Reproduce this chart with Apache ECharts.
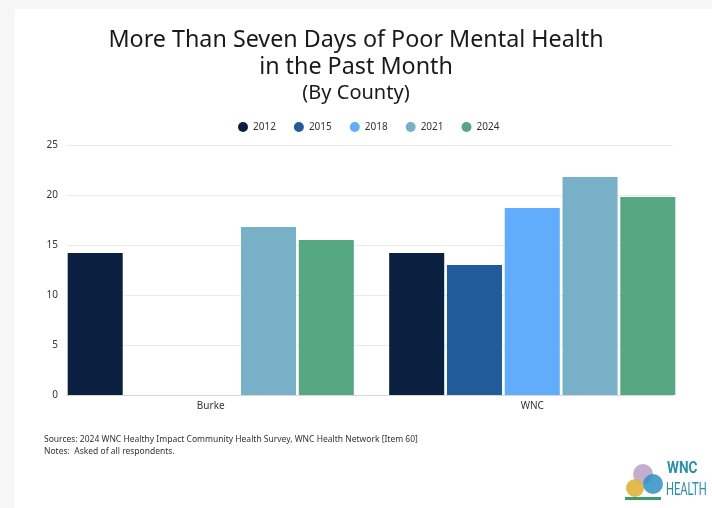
<!DOCTYPE html>
<html>
<head>
<meta charset="utf-8">
<script src="https://cdn.jsdelivr.net/npm/echarts@6/dist/echarts.min.js"></script>
<style>
  html, body { margin: 0; padding: 0; background: #f6f6f6; }
  #chart { width: 712px; height: 508px; }
</style>
</head>
<body>
<div id="chart"></div>
<script>
// counties on the x axis
const counties = ['Burke', 'WNC']
const years = ['2012', '2015', '2018', '2021', '2024']
// percent per year, one value per county (null = no data)
const values2012 = [14.2, 14.2]
const values2015 = [null, 13.0]
const values2018 = [null, 18.7]
const values2021 = [16.8, 21.8]
const values2024 = [15.5, 19.8]
const yTicks = [0, 5, 10, 15, 20, 25]

const yearColors = ['#0b1f40', '#215b9a', '#61adfb', '#78b1c7', '#55a882']
const seriesValues = [values2012, values2015, values2018, values2021, values2024]

const chart = echarts.init(document.getElementById('chart'), null, { renderer: 'canvas' })

const font = '"Noto Sans", sans-serif'
const yMin = yTicks[0]
const yMax = yTicks[yTicks.length - 1]

chart.setOption({
  backgroundColor: '#f6f6f6',
  title: [
    {
      text: 'More Than Seven Days of Poor Mental Health\nin the Past Month',
      left: 'center',
      top: 22,
      textStyle: { fontFamily: font, fontSize: 23.3, fontWeight: 'normal', color: '#1a1a1a', lineHeight: 27 },
    },
    {
      text: '(By County)',
      left: 'center',
      top: 78,
      textStyle: { fontFamily: font, fontSize: 20, fontWeight: 'normal', color: '#1a1a1a' },
    },
  ],
  legend: {
    top: 117,
    left: 233,
    icon: 'circle',
    itemWidth: 10,
    itemHeight: 10,
    itemGap: 18,
    textStyle: { fontFamily: font, fontSize: 10, color: '#333' },
    data: years,
  },
  // grid 0: gridlines and y labels, grid 1: bars and county labels
  grid: [
    { left: 67, right: 39, top: 145, bottom: 113 },
    { left: 50, right: 19, top: 145, bottom: 113 },
  ],
  xAxis: [
    {
      gridIndex: 0,
      type: 'category',
      data: counties,
      axisTick: { show: false },
      axisLabel: { show: false },
      axisLine: { lineStyle: { color: '#d8d8d8' } },
    },
    {
      gridIndex: 1,
      type: 'category',
      data: counties,
      axisTick: { show: false },
      axisLine: { show: false },
      axisLabel: { fontFamily: font, fontSize: 10, color: '#333', margin: 6 },
    },
  ],
  yAxis: [
    {
      gridIndex: 0,
      type: 'value',
      min: yMin,
      max: yMax,
      interval: 5,
      axisLabel: { fontFamily: font, fontSize: 10, color: '#333', margin: 9 },
      splitLine: { lineStyle: { color: '#ebebeb' } },
    },
    {
      gridIndex: 1,
      type: 'value',
      min: yMin,
      max: yMax,
      interval: 5,
      show: false,
      splitLine: { show: false },
    },
  ],
  series: years.map((year, index) => ({
    name: year,
    type: 'bar',
    xAxisIndex: 1,
    yAxisIndex: 1,
    data: seriesValues[index],
    barGap: '5%',
    barCategoryGap: '11%',
    itemStyle: { color: yearColors[index] },
  })),
  color: yearColors,
  graphic: [
    // white card behind the chart
    {
      type: 'rect',
      z: -10,
      shape: { x: 15, y: 9, width: 697, height: 499 },
      style: { fill: '#ffffff' },
    },
    {
      type: 'text',
      left: 44,
      top: 434,
      style: {
        text: 'Sources: 2024 WNC Healthy Impact Community Health Survey, WNC Health Network [Item 60]\nNotes:  Asked of all respondents.',
        fontFamily: font,
        fontSize: 8.5,
        lineHeight: 12,
        fill: '#333',
      },
    },
    // logo
    { type: 'circle', shape: { cx: 643, cy: 474, r: 10 }, style: { fill: '#b9a0c4', opacity: 0.85 } },
    { type: 'circle', shape: { cx: 635, cy: 488, r: 9 }, style: { fill: '#e0b23a', opacity: 0.9 } },
    { type: 'circle', shape: { cx: 653, cy: 484, r: 10 }, style: { fill: '#2f8fc4', opacity: 0.85 } },
    { type: 'rect', shape: { x: 625, y: 497, width: 36, height: 3 }, style: { fill: '#3d9a6a' } },
    {
      type: 'text',
      x: 667,
      y: 461,
      scaleX: 0.85,
      style: { text: 'WNC', fontFamily: 'Roboto, sans-serif', fontWeight: 'bold', fontSize: 16, fill: '#2a8fa8' },
    },
    {
      type: 'text',
      x: 666,
      y: 481,
      scaleX: 0.62,
      style: { text: 'HEALTH', fontFamily: 'Roboto, sans-serif', fontSize: 18, fill: '#2a8fa8' },
    },
  ],
})
</script>
</body>
</html>
